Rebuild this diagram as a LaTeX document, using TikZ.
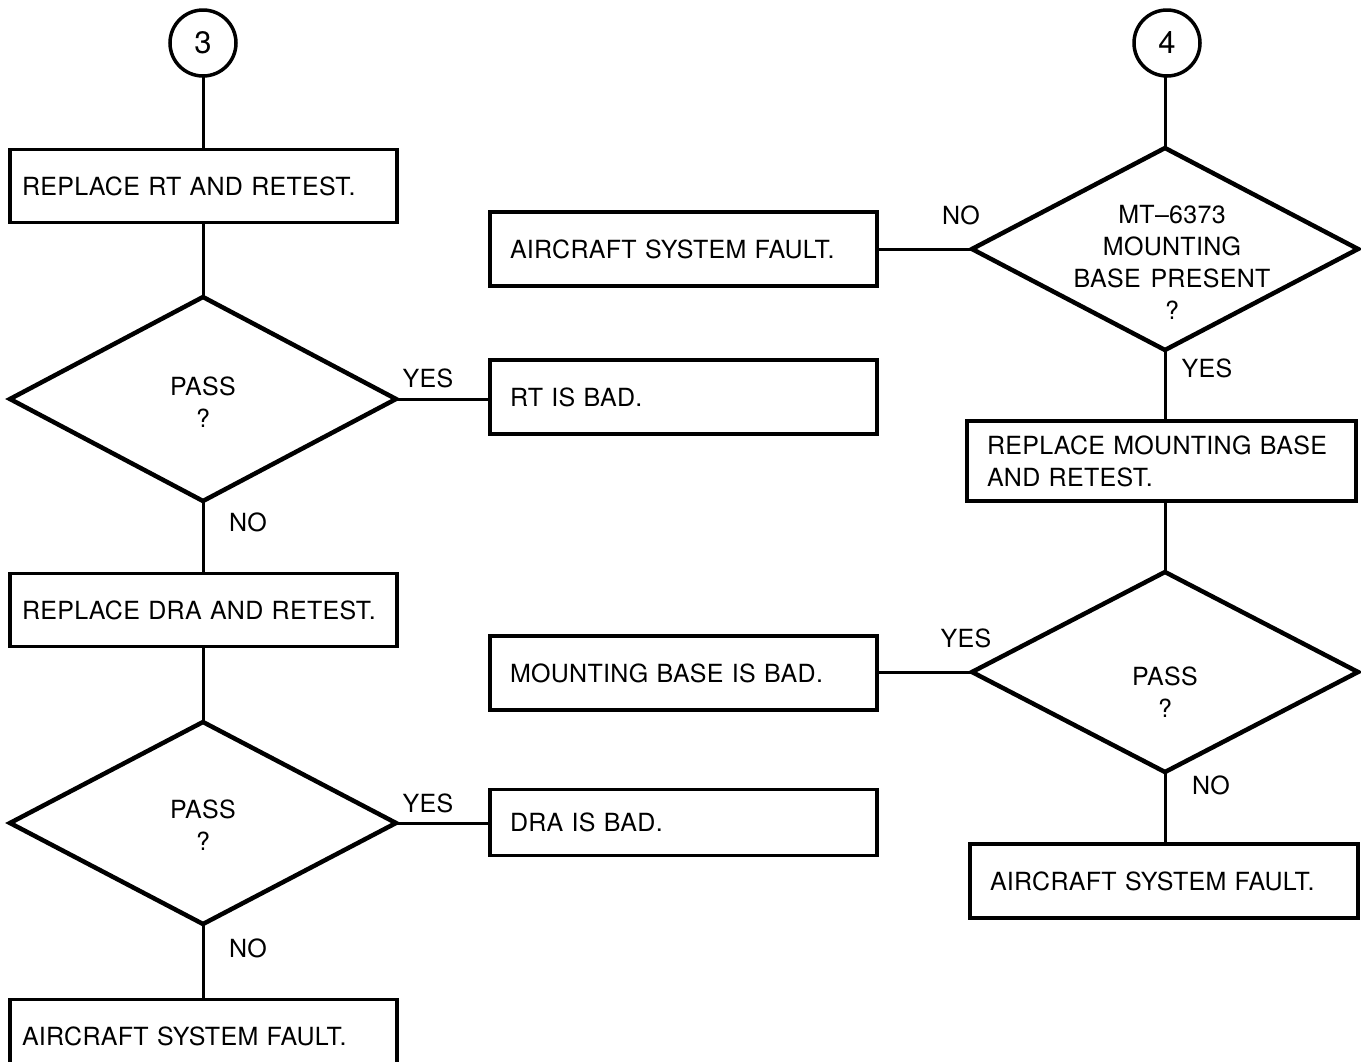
\documentclass[tikz,border=0pt]{standalone}
\usepackage{fontspec}
\setmainfont{TeX Gyre Heros}[LetterSpace=1.2, WordSpace=1.35]
\usetikzlibrary{shapes.geometric}
\newcommand\fsz{\fontsize{25}{32}\selectfont}
\newcommand\csz{\fontsize{31}{36}\selectfont}
\tikzset{
  boxL/.style={draw, line width=3.5pt, rectangle, text width=363pt, inner xsep=12pt, inner ysep=0pt, minimum height=73pt, align=left, font=\fsz, outer sep=0pt},
  boxM/.style={draw, line width=3.5pt, rectangle, text width=347pt, inner xsep=20pt, inner ysep=0pt, minimum height=74pt, align=left, font=\fsz, outer sep=0pt},
  dec/.style={draw, diamond, line width=4.5pt, minimum width=386pt, inner sep=0pt, align=center, font=\fsz, outer sep=0pt},
  conn/.style={circle, draw, line width=3.5pt, minimum size=66pt, inner sep=0pt, font=\csz, outer sep=0pt},
  link/.style={line width=3pt},
  lbl/.style={font=\fsz, inner sep=0pt},
  dtext/.style={font=\fsz, align=center, inner sep=0pt},
}
\begin{document}
\begin{tikzpicture}[x=1pt, y=-1pt]
\useasboundingbox (0,0) rectangle (1361,1061);
\clip (0,0) rectangle (1361,1061);
% left column
\node[conn] (c3) at (203,43) {3};
\node[boxL] (b1) at (203.5,186) {REPLACE RT AND RETEST.};
\node[dec, minimum height=204pt] (d1) at (203,399) {};
\node[dtext] (d1t) at (203,402) {PASS\\?};
\node[boxM] (rt) at (683.5,397) {RT IS BAD.};
\node[boxL] (b2) at (203.5,610) {REPLACE DRA AND RETEST.};
\node[dec, minimum height=202pt] (d2) at (203,823) {};
\node[dtext] (d2t) at (203,825) {PASS\\?};
\node[boxM, minimum height=66pt] (dra) at (683.5,822.5) {DRA IS BAD.};
\node[boxL] (b3) at (203.5,1036) {AIRCRAFT SYSTEM FAULT.};
\node[lbl] (y1) at (428,378) {YES};
\node[lbl] (n1) at (248,522) {NO};
\node[lbl] (y2) at (428,803) {YES};
\node[lbl] (n2) at (248,948) {NO};
\draw[link] (c3.south) -- (b1.north -| c3.south);
\draw[link] (b1.south -| d1.north) -- (d1.north);
\draw[link] (d1.east) -- (d1.east -| rt.west);
\draw[link] (d1.south) -- (d1.south |- b2.north);
\draw[link] (b2.south -| d2.north) -- (d2.north);
\draw[link] (d2.east) -- (d2.east -| dra.west);
\draw[link] (d2.south) -- (d2.south |- b3.north);
% right column
\node[conn] (c4) at (1167,43) {4};
\node[dec, minimum height=202pt] (d3) at (1165,249) {};
\node[dtext] (d3t) at (1172,262) {MT--6373\\MOUNTING\\BASE PRESENT\\?};
\node[boxM] (asf1) at (683.5,249) {AIRCRAFT SYSTEM FAULT.};
\node[boxM, text width=349pt, minimum height=80pt] (rmb) at (1161.5,461) {REPLACE MOUNTING BASE\\AND RETEST.};
\node[dec, minimum height=200pt] (d4) at (1165,672) {};
\node[dtext] (d4t) at (1165,692) {PASS\\?};
\node[boxM] (mbb) at (683.5,673) {MOUNTING BASE IS BAD.};
\node[boxM, text width=348pt] (asf2) at (1164,881) {AIRCRAFT SYSTEM FAULT.};
\node[lbl] (n3) at (961,215) {NO};
\node[lbl] (y3) at (1207,368) {YES};
\node[lbl] (y4) at (966,638) {YES};
\node[lbl] (n4) at (1211,785) {NO};
\draw[link] (c4.south -| d3.north) -- (d3.north);
\draw[link] (d3.west) -- (d3.west -| asf1.east);
\draw[link] (d3.south) -- (d3.south |- rmb.north);
\draw[link] (rmb.south -| d4.north) -- (d4.north);
\draw[link] (d4.west) -- (d4.west -| mbb.east);
\draw[link] (d4.south) -- (d4.south |- asf2.north);
\end{tikzpicture}
\end{document}
